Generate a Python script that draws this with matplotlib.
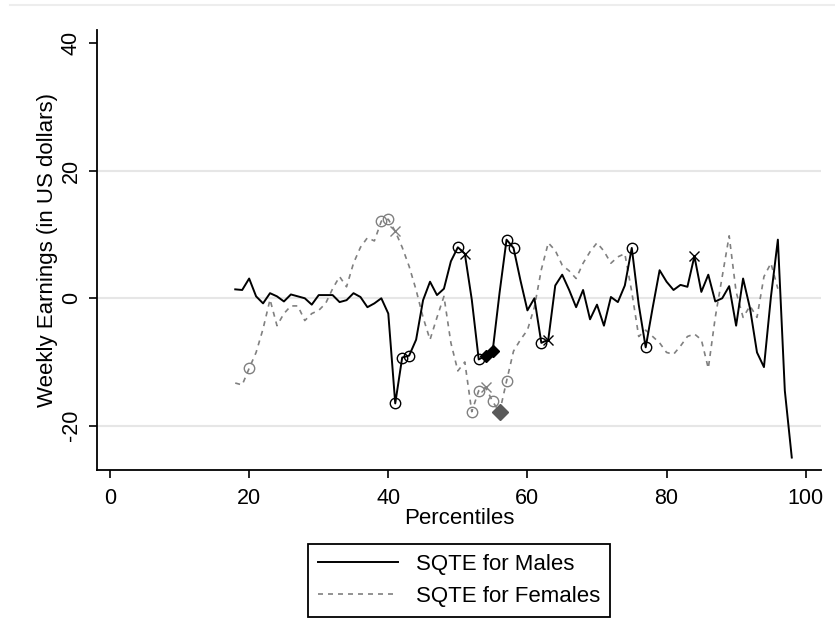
import matplotlib.pyplot as plt
from matplotlib.lines import Line2D

plt.rcParams['font.family'] = ['Liberation Sans', 'DejaVu Sans']

# percentiles
pct_m = list(range(18, 99))
pct_f = list(range(18, 97))

# SQTE for males, percentiles 18..98
sqte_m = [1.4, 1.3, 3.1, 0.3, -0.8, 0.8, 0.3, -0.5, 0.6, 0.3,
          0.0, -1.0, 0.5, 0.5, 0.5, -0.6, -0.3, 0.8, 0.2, -1.4,
          -0.8, 0.0, -2.4, -16.5, -9.3, -9.0, -6.5, -0.3, 2.6, 0.5,
          1.5, 5.8, 8.0, 7.0, -0.2, -9.6, -9.0, -8.3, 0.9, 9.2,
          7.9, 2.8, -1.9, 0.0, -7.0, -6.5, 2.0, 3.7, 1.3, -1.4,
          1.3, -3.3, -1.0, -4.3, 0.2, -0.6, 2.0, 7.9, -1.0, -7.7,
          -1.5, 4.4, 2.6, 1.3, 2.1, 1.8, 6.6, 1.0, 3.7, -0.5,
          0.0, 1.9, -4.3, 3.1, -1.6, -8.5, -10.8, 0.2, 9.2, -14.5,
          -25.0]

# SQTE for females, percentiles 18..96
sqte_f = [-13.3, -13.6, -11.0, -8.5, -4.8, -0.2, -4.3, -2.4, -1.2, -1.2,
          -3.5, -2.4, -1.9, -0.8, 1.5, 3.4, 1.8, 5.5, 8.0, 9.5,
          9.0, 12.1, 12.4, 10.5, 8.0, 5.0, 1.3, -3.0, -6.5, -3.0,
          0.3, -7.0, -11.4, -10.0, -17.8, -14.5, -14.0, -16.2, -17.9, -13.0,
          -8.3, -6.5, -5.0, -1.4, 4.5, 8.7, 7.5, 5.2, 4.3, 3.1,
          5.5, 7.3, 8.7, 7.4, 5.5, 6.5, 7.0, 1.0, -6.0, -5.0,
          -6.0, -7.0, -8.5, -8.8, -7.5, -6.0, -5.6, -6.5, -11.0, -3.0,
          3.4, 9.8, 1.0, -3.0, -1.2, -3.0, 3.4, 5.5, 1.5]

# percentiles flagged with markers
m_circle = [41, 42, 43, 50, 53, 57, 58, 62, 75, 77]
m_cross = [51, 63, 84]
m_filled = [54, 55]
f_circle = [20, 39, 40, 52, 53, 55, 57]
f_cross = [41, 54]
f_filled = [56]

labels = ['SQTE for Males', 'SQTE for Females']


def pick(xs, ys, sel):
    return [x for x in sel], [ys[xs.index(x)] for x in sel]


fig = plt.figure(figsize=(8.35, 6.41), dpi=100)
ax = fig.add_axes([97 / 835, 1 - 470 / 641, (821 - 97) / 835, (470 - 30) / 641])

for g in [-20, 0, 20]:
    ax.axhline(g, color='#e6e6e6', lw=1.5, zorder=0)

grey = '#808080'
ax.plot(pct_m, sqte_m, color='black', lw=1.4, label=labels[0], zorder=3)
ax.plot(pct_f, sqte_f, color=grey, lw=1.2, ls=(0, (3, 3)), label=labels[1], zorder=2)

x, y = pick(pct_m, sqte_m, m_circle)
ax.plot(x, y, 'o', ms=7.5, mfc='none', mec='black', mew=1.0, zorder=4)
x, y = pick(pct_m, sqte_m, m_cross)
ax.plot(x, y, 'x', ms=7, color='black', mew=1.0, zorder=4)
x, y = pick(pct_m, sqte_m, m_filled)
ax.plot(x, y, 'D', ms=6, color='black', zorder=4)
x, y = pick(pct_f, sqte_f, f_circle)
ax.plot(x, y, 'o', ms=7.5, mfc='none', mec=grey, mew=1.0, zorder=4)
x, y = pick(pct_f, sqte_f, f_cross)
ax.plot(x, y, 'x', ms=7, color=grey, mew=1.0, zorder=4)
x, y = pick(pct_f, sqte_f, f_filled)
ax.plot(x, y, 'D', ms=8, color='#5a5a5a', zorder=4)

ax.set_xlim(-1.87, 102.2)
ax.set_ylim(-26.95, 42.1)
ax.set_xticks([0, 20, 40, 60, 80, 100])
ax.set_yticks([-20, 0, 20, 40])
ax.set_yticklabels(['-20', '0', '20', '40'], rotation=90, va='center')
ax.tick_params(length=6, width=1.2, labelsize=15.5)
ax.tick_params(axis='x', pad=7)
ax.tick_params(axis='y', pad=5)
for s in ['top', 'right']:
    ax.spines[s].set_visible(False)
for s in ['left', 'bottom']:
    ax.spines[s].set_linewidth(1.3)

ax.set_xlabel('Percentiles', fontsize=16, labelpad=-1)
ax.set_ylabel('Weekly Earnings (in US dollars)', fontsize=16, labelpad=2)

leg = ax.legend(loc='upper center', bbox_to_anchor=(0.5, -0.168), borderaxespad=0,
                fontsize=16, handlelength=3.6, fancybox=False, edgecolor='black',
                framealpha=1, borderpad=0.45, labelspacing=0.5, handletextpad=0.8)
leg.get_frame().set_linewidth(1.3)

fig.add_artist(Line2D([10 / 835, 1], [1 - 5 / 641, 1 - 5 / 641], color='#ededed', lw=1.5))

fig.savefig('out.png', dpi=100)
